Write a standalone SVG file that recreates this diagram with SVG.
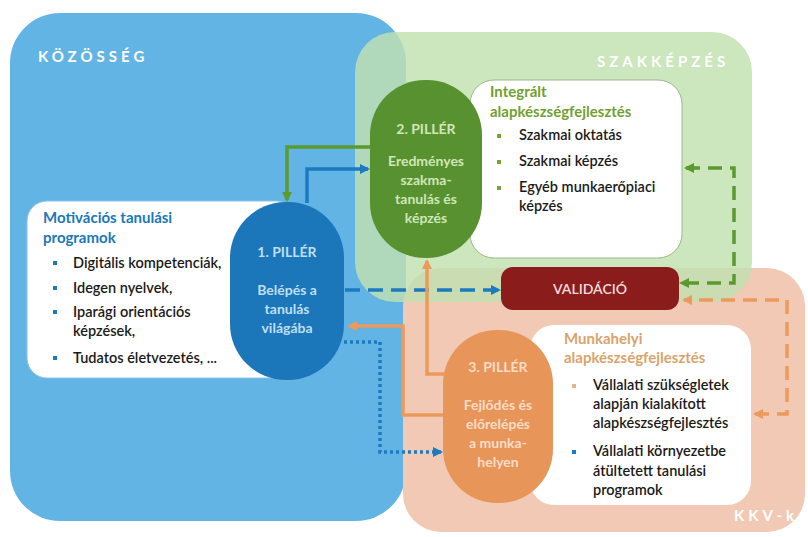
<svg xmlns="http://www.w3.org/2000/svg" width="808" height="537" viewBox="0 0 808 537">
<defs>
<marker id="aBlue" viewBox="0 0 10 10" refX="8" refY="5" markerWidth="10" markerHeight="10" markerUnits="userSpaceOnUse" orient="auto-start-reverse"><path d="M0,0 L10,5 L0,10 z" fill="#1b7ac0"/></marker>
<marker id="aGreen" viewBox="0 0 10 10" refX="8" refY="5" markerWidth="10" markerHeight="10" markerUnits="userSpaceOnUse" orient="auto-start-reverse"><path d="M0,0 L10,5 L0,10 z" fill="#5a9a2e"/></marker>
<marker id="aOrange" viewBox="0 0 10 10" refX="8" refY="5" markerWidth="10" markerHeight="10" markerUnits="userSpaceOnUse" orient="auto-start-reverse"><path d="M0,0 L10,5 L0,10 z" fill="#ec9a5c"/></marker>
</defs>
<style>
text{font-family:Lato,"Liberation Sans",sans-serif}
.body{font-size:14.5px;font-weight:600;fill:#1a1a1a}
.ttl{font-size:15px;font-weight:700}
.pil{font-size:14px;font-weight:700;text-anchor:middle}
.reg{font-size:15px;font-weight:700;fill:#ffffff;letter-spacing:4px}
.box{fill:#ffffff}
.ln{fill:none;stroke-width:3.5}
</style>
<rect width="808" height="537" fill="#ffffff"/>

<g id="kozosseg">
<rect x="10" y="13" width="396" height="508" rx="50" fill="#62b4e5"/>
<text class="reg" x="38" y="62">KÖZÖSSÉG</text>
</g>
<g id="kkv">
<rect x="403" y="268" width="402" height="264" rx="38" fill="#f1c9b4"/>
<text class="reg" x="734" y="521">KKV-k</text>
</g>
<g id="szakkepzes">
<rect x="355" y="32" width="397" height="270" rx="40" fill="#c1e0b0" fill-opacity="0.82"/>
<text class="reg" x="597" y="67">SZAKKÉPZÉS</text>
</g>

<g id="motivacios">
<rect class="box" x="27" y="201" width="270" height="177" rx="20" stroke="#8cc4e6" stroke-width="1"/>
<text class="ttl" x="43" y="223" fill="#1a78b8">Motivációs tanulási</text>
<text class="ttl" x="43" y="243" fill="#1a78b8">programok</text>
<g fill="#1b7ac0"><rect x="53" y="261" width="4" height="4"/><rect x="53" y="286" width="4" height="4"/><rect x="53" y="310" width="4" height="4"/><rect x="53" y="356" width="4" height="4"/></g>
<text class="body" x="73" y="268">Digitális kompetenciák,</text>
<text class="body" x="73" y="293">Idegen nyelvek,</text>
<text class="body" x="73" y="317">Iparági orientációs</text>
<text class="body" x="73" y="336">képzések,</text>
<text class="body" x="73" y="363">Tudatos életvezetés, ...</text>
</g>

<g id="integralt">
<rect class="box" x="470" y="80" width="212" height="178" rx="24" stroke="#9ab88a" stroke-width="1"/>
<text class="ttl" x="490" y="97" fill="#72a030">Integrált</text>
<text class="ttl" x="490" y="117" fill="#72a030">alapkészségfejlesztés</text>
<g fill="#7aa23a"><rect x="497" y="134" width="4" height="4"/><rect x="497" y="160" width="4" height="4"/><rect x="497" y="186" width="4" height="4"/></g>
<text class="body" x="519" y="140">Szakmai oktatás</text>
<text class="body" x="519" y="166">Szakmai képzés</text>
<text class="body" x="519" y="192">Egyéb munkaerőpiaci</text>
<text class="body" x="519" y="211">képzés</text>
</g>

<g id="munkahelyi">
<rect class="box" x="530" y="325" width="221" height="180" rx="24"/>
<text class="ttl" x="564" y="344" fill="#d8a46c">Munkahelyi</text>
<text class="ttl" x="564" y="363" fill="#d8a46c">alapkészségfejlesztés</text>
<rect x="572" y="384" width="4" height="4" fill="#e2b48a"/>
<rect x="572" y="450" width="4" height="4" fill="#1b7ac0"/>
<text class="body" x="593" y="390">Vállalati szükségletek</text>
<text class="body" x="593" y="409">alapján kialakított</text>
<text class="body" x="593" y="428">alapkészségfejlesztés</text>
<text class="body" x="593" y="456">Vállalati környezetbe</text>
<text class="body" x="593" y="476">átültetett tanulási</text>
<text class="body" x="593" y="495">programok</text>
</g>

<g id="connectors">
<path class="ln" d="M371,147 H287 V200" stroke="#5a9a2e" marker-end="url(#aGreen)"/>
<path class="ln" d="M307,203 V169 H368" stroke="#1b7ac0" marker-end="url(#aBlue)"/>
<path class="ln" d="M345,290 H499" stroke="#1b7ac0" stroke-dasharray="15 8" marker-end="url(#aBlue)"/>
<path class="ln" d="M444,374 H427 V261" stroke="#ec9a5c" marker-end="url(#aOrange)"/>
<path class="ln" d="M444,415 H403 V326 H349" stroke="#ec9a5c" marker-end="url(#aOrange)"/>
<path class="ln" d="M344,342 H380 V452 H441" stroke="#1b7ac0" stroke-dasharray="3 3" marker-end="url(#aBlue)"/>
<path class="ln" d="M686,168 H734 V283 H681" stroke="#5a9a2e" stroke-dasharray="14 8" marker-start="url(#aGreen)" marker-end="url(#aGreen)"/>
<path class="ln" d="M755,414 H787 V300 H684" stroke="#ec9a5c" stroke-dasharray="14 8" marker-start="url(#aOrange)" marker-end="url(#aOrange)"/>
</g>

<g id="validacio">
<rect x="501" y="267" width="178" height="43" rx="12" fill="#8a1c1c"/>
<text x="590" y="294" text-anchor="middle" font-size="14" font-weight="600" fill="#f5dcdc">VALIDÁCIÓ</text>
</g>

<g id="piller1">
<rect x="230" y="202" width="114" height="178" rx="56" fill="#1b76ba"/>
<g fill="#bfdff4"><text class="pil" x="287" y="257">1. PILLÉR</text>
<text class="pil" x="287" y="295">Belépés a</text>
<text class="pil" x="287" y="314">tanulás</text>
<text class="pil" x="287" y="333">világába</text></g>
</g>
<g id="piller2">
<rect x="370" y="80" width="112" height="178" rx="55" fill="#589230"/>
<g fill="#cfe7b8"><text class="pil" x="426" y="134">2. PILLÉR</text>
<text class="pil" x="426" y="166">Eredményes</text>
<text class="pil" x="426" y="185">szakma-</text>
<text class="pil" x="426" y="204">tanulás és</text>
<text class="pil" x="426" y="223">képzés</text></g>
</g>
<g id="piller3">
<rect x="443" y="330" width="110" height="173" rx="54" fill="#e8955a"/>
<g fill="#fbdcc6"><text class="pil" x="498" y="372">3. PILLÉR</text>
<text class="pil" x="498" y="410">Fejlődés és</text>
<text class="pil" x="498" y="429">előrelépés</text>
<text class="pil" x="498" y="448">a munka-</text>
<text class="pil" x="498" y="467">helyen</text></g>
</g>
</svg>
